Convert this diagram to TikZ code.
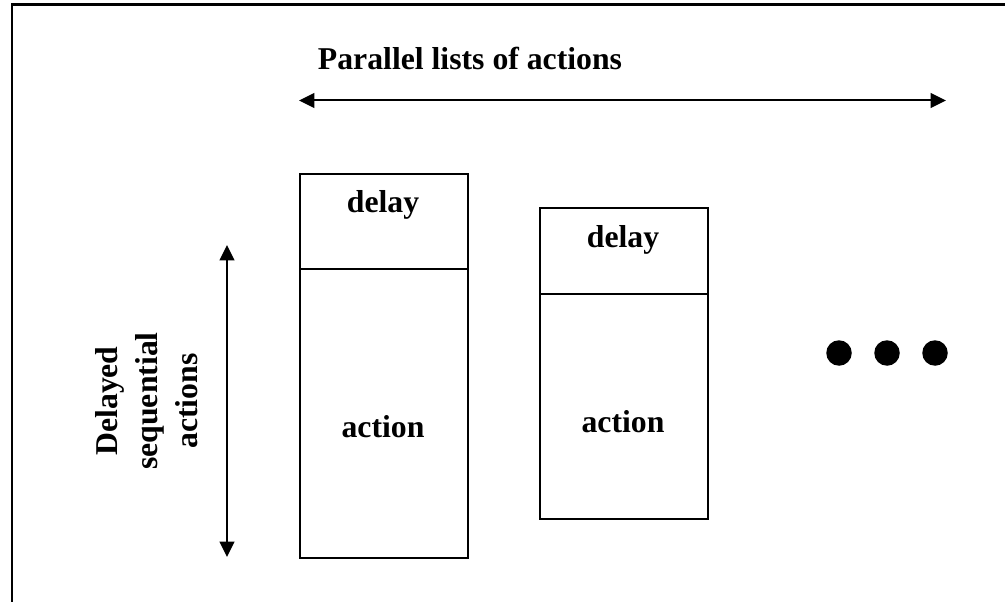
\documentclass[tikz,border=0pt]{standalone}
\usepackage{fontspec}
\setmainfont{Liberation Serif}
\usetikzlibrary{arrows.meta}
\begin{document}
\begin{tikzpicture}[x=0.75pt,y=-0.75pt,
  lbl/.style={font=\fontsize{23.8}{30}\selectfont\bfseries, inner sep=0pt},
  part/.style={draw, line width=1.5pt, minimum width=168*0.75pt, inner sep=0pt, anchor=north west},
  dbl/.style={{Triangle[length=11.5pt,width=11pt]}-{Triangle[length=11.5pt,width=11pt]}, line width=1.5pt},
  dot/.style={circle, fill=black, minimum size=25.5*0.75pt, inner sep=0pt}]
\useasboundingbox (0,0) rectangle (1005,602);
% frame
\coordinate (fb) at (12,605);
\coordinate (fc) at (12,4.5);
\coordinate (fr) at (1008,4.5);
\draw[line width=1.9pt] (fb) -- (fc) -- (fr);
% title and horizontal arrow
\node[lbl, anchor=base] (title) at (470,70) {Parallel lists of actions};
\coordinate (hl) at (299,100.5);
\coordinate (hr) at (946,100.5);
\draw[dbl] (hl) -- (hr);
% vertical arrow and label
\coordinate (vt) at (227,245);
\coordinate (vb) at (227,557);
\draw[dbl] (vt) -- (vb);
\node[lbl, rotate=90, align=center] (vlab) at (147,401) {Delayed\\sequential\\actions};
% first column
\node[part, minimum height=95*0.75pt] (d1) at (299,173) {};
\node[part, minimum height=289*0.75pt] (a1) at (299,268) {};
\node[lbl, anchor=base] (d1t) at (383,213) {delay};
\node[lbl, anchor=base] (a1t) at (383,437) {action};
% second column
\node[part, minimum height=86*0.75pt] (d2) at (539,207) {};
\node[part, minimum height=225*0.75pt] (a2) at (539,293) {};
\node[lbl, anchor=base] (d2t) at (623,247) {delay};
\node[lbl, anchor=base] (a2t) at (623,432) {action};
% dots
\node[dot] (p1) at (839,353) {};
\node[dot] (p2) at (887,353) {};
\node[dot] (p3) at (935,353) {};
\end{tikzpicture}
\end{document}
